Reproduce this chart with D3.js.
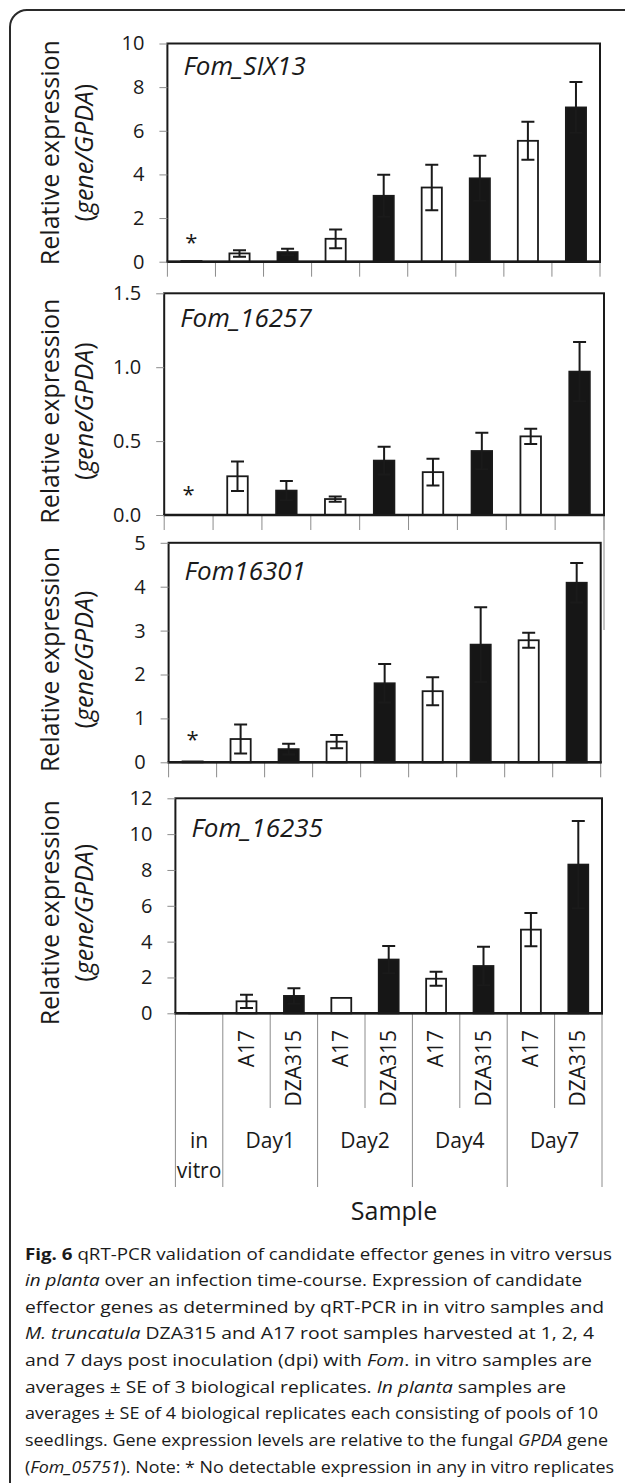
<!DOCTYPE html>
<html lang="en">
<head>
<meta charset="UTF-8">
<title>Fig. 6 qRT-PCR</title>
<script src="https://d3js.org/d3.v7.min.js"></script>
<style>
  body { margin: 0; background: white; }
  text { font-family: "Open Sans", sans-serif; fill: #1a1a1a; }
  .tick text { font-size: 20px; }
  .bar { stroke: #1a1a1a; stroke-width: 1.8; }
  .err { stroke: #1a1a1a; stroke-width: 2; fill: none; }
  .sep { stroke: #8c8c8c; stroke-width: 1; }
</style>
</head>
<body>
<script>
// samples along the x axis
var samples = ["in vitro", "A17", "DZA315", "A17", "DZA315", "A17", "DZA315", "A17", "DZA315"];
var days = ["in vitro", "Day1", "Day2", "Day4", "Day7"];
var genes = ["Fom_SIX13", "Fom_16257", "Fom16301", "Fom_16235"];

// mean relative expression and SE per sample
var six13Mean  = [0.03, 0.38, 0.44, 1.05, 3.02, 3.40, 3.82, 5.54, 7.07];
var six13Se    = [0, 0.15, 0.15, 0.43, 0.96, 1.04, 1.03, 0.87, 1.16];
var g16257Mean = [0, 0.262, 0.165, 0.108, 0.368, 0.29, 0.433, 0.532, 0.97];
var g16257Se   = [0, 0.10, 0.065, 0.018, 0.094, 0.09, 0.124, 0.052, 0.20];
var g16301Mean = [0.02, 0.53, 0.30, 0.47, 1.80, 1.62, 2.68, 2.78, 4.09];
var g16301Se   = [0, 0.33, 0.12, 0.15, 0.44, 0.32, 0.85, 0.17, 0.45];
var g16235Mean = [0.01, 0.67, 0.97, 0.86, 3.00, 1.93, 2.64, 4.67, 8.30];
var g16235Se   = [0, 0.37, 0.43, 0, 0.76, 0.39, 1.08, 0.93, 2.44];

var means = [six13Mean, g16257Mean, g16301Mean, g16235Mean];
var ses = [six13Se, g16257Se, g16301Se, g16235Se];

// y axis limits and tick steps
var yMax = [10, 1.5, 5, 12];
var yStep = [2, 0.5, 1, 2];
var noDetect = [true, true, true, false];

var caption = [
  [["Fig. 6", "b"], [" qRT-PCR validation of candidate effector genes in vitro versus", ""]],
  [["in planta", "i"], [" over an infection time-course. Expression of candidate", ""]],
  [["effector genes as determined by qRT-PCR in in vitro samples and", ""]],
  [["M. truncatula", "i"], [" DZA315 and A17 root samples harvested at 1, 2, 4", ""]],
  [["and 7 days post inoculation (dpi) with ", ""], ["Fom", "i"], [". in vitro samples are", ""]],
  [["averages ± SE of 3 biological replicates. ", ""], ["In planta", "i"], [" samples are", ""]],
  [["averages ± SE of 4 biological replicates each consisting of pools of 10", ""]],
  [["seedlings. Gene expression levels are relative to the fungal ", ""], ["GPDA", "i"], [" gene", ""]],
  [["(", ""], ["Fom_05751", "i"], ["). Note: * No detectable expression in any in vitro replicates", ""]]
];
var captionWidth = [587, 557, 579, 569, 567, 541, 573, 583, 589];

var W = 625, H = 1483;
var svg = d3.select("body").append("svg").attr("width", W).attr("height", H);

// outer rounded frame (right and bottom cut off)
svg.append("path")
   .attr("d", "M10," + H + " V27 A17,17 0 0 1 27,10 H" + W)
   .attr("fill", "none").attr("stroke", "#2a2a2a").attr("stroke-width", 2);

// plot boxes
var boxes = [
  {x0: 167.4, x1: 600, y0: 43.5, y1: 261.7, title: 75, ast: 241},
  {x0: 164.2, x1: 604, y0: 293.3, y1: 515, title: 327, ast: 493},
  {x0: 168.6, x1: 600.7, y0: 542.8, y1: 762.3, title: 580, ast: 738},
  {x0: 175.4, x1: 602, y0: 798.3, y1: 1013.3, title: 837, ast: 0}
];

// stray grey edge to the right of panel 3
svg.append("line").attr("class", "sep")
   .attr("x1", 604).attr("x2", 604).attr("y1", 515).attr("y2", 630)
   .attr("stroke", "#b0b0b0");

boxes.forEach(function(b, gi) {
  var g = svg.append("g");
  var x = d3.scaleBand().domain(d3.range(samples.length)).range([b.x0, b.x1])
            .paddingInner(0.58).paddingOuter(0.29);
  var step = x.step();
  var y = d3.scaleLinear().domain([0, yMax[gi]]).range([b.y1, b.y0]);

  // category boundary ticks
  var longTicks = gi === 3;
  g.append("g").selectAll("line").data(d3.range(samples.length + 1)).enter()
    .append("line").attr("class", "sep")
    .attr("x1", function(i) { return b.x0 + i * step; })
    .attr("x2", function(i) { return b.x0 + i * step; })
    .attr("y1", b.y1)
    .attr("y2", function(i) {
      if (!longTicks) return b.y1 + 15;
      return (i === 0 || i % 2 === 1) ? 1187 : 1108;
    });

  // bars
  var vals = means[gi], err = ses[gi];
  g.append("g").selectAll("rect").data(vals).enter().append("rect")
    .attr("class", "bar")
    .attr("x", function(d, i) { return x(i); })
    .attr("width", x.bandwidth())
    .attr("y", function(d) { return y(d); })
    .attr("height", function(d) { return y(0) - y(d); })
    .attr("fill", function(d, i) { return samples[i] === "A17" ? "white" : "#161616"; });

  // error bars
  var cap = 6.5;
  var eb = g.append("g").selectAll("path").data(vals.map(function(v, i) { return {v: v, e: err[i], i: i}; })
              .filter(function(d) { return d.e > 0; })).enter();
  eb.append("path").attr("class", "err")
    .attr("d", function(d) {
      var cx = x(d.i) + x.bandwidth() / 2, t = y(d.v + d.e), lo = y(d.v - d.e);
      return "M" + cx + "," + lo + "V" + t +
             "M" + (cx - cap) + "," + t + "H" + (cx + cap) +
             "M" + (cx - cap) + "," + lo + "H" + (cx + cap);
    });

  // frame
  g.append("rect").attr("x", b.x0).attr("y", b.y0)
    .attr("width", b.x1 - b.x0).attr("height", b.y1 - b.y0)
    .attr("fill", "none").attr("stroke", "#1a1a1a").attr("stroke-width", 2);
  g.append("line").attr("x1", b.x0 - 1).attr("x2", b.x1 + 1).attr("y1", b.y1).attr("y2", b.y1)
    .attr("stroke", "#1a1a1a").attr("stroke-width", 2.6);

  // y axis
  var ax = g.append("g").attr("transform", "translate(" + b.x0 + ",0)")
    .call(d3.axisLeft(y)
      .tickValues(d3.range(0, yMax[gi] + 1e-9, yStep[gi]))
      .tickFormat(d3.format(gi === 1 ? ".1f" : "d"))
      .tickSize(8).tickPadding(15));
  ax.select(".domain").remove();
  ax.selectAll(".tick line").attr("stroke", "#8c8c8c");

  // gene name
  g.append("text").attr("x", b.x0 + 16).attr("y", b.title)
    .attr("font-size", 26).attr("font-style", "italic").text(genes[gi]);

  // no detectable expression marker
  if (noDetect[gi]) {
    g.append("text").attr("x", x(0) + x.bandwidth() / 2).attr("y", b.ast + 9)
      .attr("text-anchor", "middle").attr("font-size", 22).text("*");
  }

  // y title
  var cy = (b.y0 + b.y1) / 2 + (gi === 0 ? 0 : 7);
  var yt = g.append("text").attr("transform", "translate(50," + cy + ") rotate(-90)")
    .attr("text-anchor", "middle").attr("font-size", 25);
  yt.append("tspan").attr("x", 0).attr("dy", "0.35em").text("Relative expression");
  var t2 = g.append("text").attr("transform", "translate(84," + cy + ") rotate(-90)")
    .attr("text-anchor", "middle").attr("font-size", 25).attr("dy", "0.35em");
  t2.append("tspan").text("(");
  t2.append("tspan").attr("font-style", "italic").text("gene/GPDA");
  t2.append("tspan").text(")");

  // category labels under last panel
  if (gi === 3) {
    g.append("g").selectAll("text").data(samples).enter()
      .filter(function(d) { return d !== "in vitro"; })
      .append("text")
      .attr("transform", function(d, i) {
        var k = samples.indexOf(d) >= 0 ? i + 1 : i;
        return "translate(" + (x(k) + x.bandwidth() / 2 + 7) + ",1030) rotate(-90)";
      })
      .attr("text-anchor", "end").attr("font-size", 21).text(function(d) { return d; });

    days.forEach(function(dname, di) {
      var cx = di === 0 ? b.x0 + step / 2 : b.x0 + step * (2 * di);
      if (dname === "in vitro") {
        g.append("text").attr("x", cx).attr("y", 1148).attr("text-anchor", "middle")
          .attr("font-size", 21).text("in");
        g.append("text").attr("x", cx).attr("y", 1178).attr("text-anchor", "middle")
          .attr("font-size", 21).text("vitro");
      } else {
        g.append("text").attr("x", cx).attr("y", 1148).attr("text-anchor", "middle")
          .attr("font-size", 21).text(dname);
      }
    });

    g.append("text").attr("x", 394).attr("y", 1220).attr("text-anchor", "middle")
      .attr("font-size", 25).text("Sample");
  }
});

// caption
var cap = svg.append("g");
caption.forEach(function(line, li) {
  var t = cap.append("text").attr("x", 25).attr("y", 1259.5 + li * 26.65)
    .attr("font-size", 15.6)
    .attr("textLength", captionWidth[li]).attr("lengthAdjust", "spacingAndGlyphs");
  line.forEach(function(seg) {
    var s = t.append("tspan").text(seg[0]);
    if (seg[1] === "b") s.attr("font-weight", "bold");
    if (seg[1] === "i") s.attr("font-style", "italic");
  });
});
</script>
</body>
</html>
